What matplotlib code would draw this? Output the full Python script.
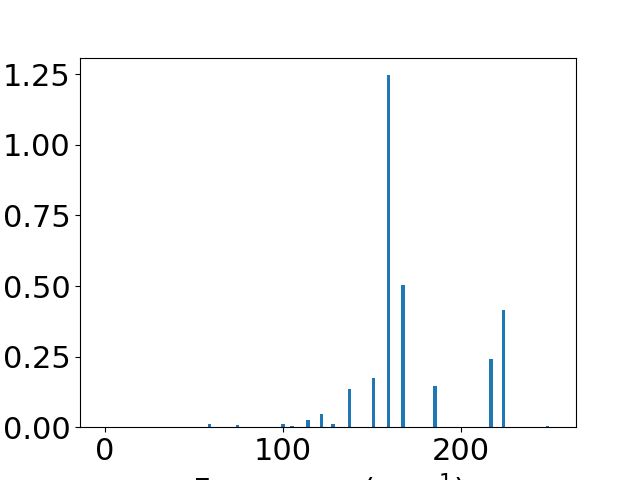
import numpy as np
import matplotlib
matplotlib.use("Agg")
import matplotlib.pyplot as plt

# frequencies (cm^-1) and intensities
freqs = [0, 58.6, 74.4, 100, 105, 114, 121.6, 128.2, 137.5, 151, 159.4, 167.5, 185.4, 217, 224, 248.8]
intens = [0.0, 0.011, 0.007, 0.010, 0.005, 0.025, 0.046, 0.011, 0.135, 0.174, 1.247, 0.503, 0.146, 0.241, 0.415, 0.004]

plt.rcParams['font.size'] = 22

fig, ax = plt.subplots(figsize=(6.4, 4.8), dpi=100)
ax.bar(freqs, intens, width=2)
ax.set_xlabel("Frequency (cm$^{-1}$)")
ax.set_xlim(-14.1, 264.8)
ax.set_xticks([0, 100, 200])
ax.set_yticks([0, 0.25, 0.5, 0.75, 1.0, 1.25])
fig.savefig("out.png")
